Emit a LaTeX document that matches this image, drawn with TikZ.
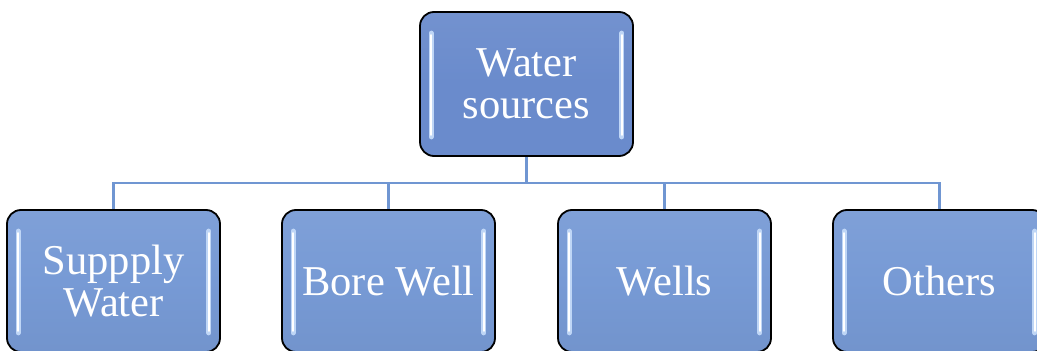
\documentclass[tikz,border=0pt]{standalone}
\usepackage{fontspec}
\setmainfont{Liberation Serif}
\usetikzlibrary{calc}
\definecolor{topfill}{HTML}{6A8BCC}
\definecolor{botfill}{HTML}{779AD5}
\definecolor{linec}{HTML}{7096D2}
\definecolor{hlc}{HTML}{BFD6F6}
\tikzset{
  box/.style={draw=black, line width=1.8pt, rounded corners=14pt,
    minimum width=213pt, minimum height=142pt, inner sep=0pt,
    text=white, align=center,
    font=\fontsize{42.5}{42}\selectfont},
  topbox/.style={box, top color=topfill!94!white, bottom color=topfill, middle color=topfill},
  botbox/.style={box, top color=botfill!94!white, bottom color=botfill!96!black, middle color=botfill},
  conn/.style={draw=linec, line width=2.4pt},
  hl/.style={line width=5pt, line cap=round, draw=hlc},
  hlw/.style={line width=1.8pt, line cap=round, draw=white},
}
\newcommand{\strips}[1]{%
  \draw[hl] ($(#1.north west)+(12pt,-22pt)$) -- ($(#1.south west)+(12pt,20pt)$);
  \draw[hlw] ($(#1.north west)+(12pt,-24pt)$) -- ($(#1.south west)+(12pt,22pt)$);
  \draw[hl] ($(#1.north east)+(-12pt,-22pt)$) -- ($(#1.south east)+(-12pt,20pt)$);
  \draw[hlw] ($(#1.north east)+(-12pt,-24pt)$) -- ($(#1.south east)+(-12pt,22pt)$);
}
\begin{document}
\begin{tikzpicture}[x=1pt,y=1pt]
\useasboundingbox (0,0) rectangle (1037,351);
\clip (0,0) rectangle (1037,351);
\node[topbox, minimum height=144pt] (top) at (526.5,267) {Water\\sources};
\node[botbox] (b1) at (113.5,70) {Suppply\\Water};
\node[botbox] (b2) at (388.5,70) {Bore Well};
\node[botbox] (b3) at (664.5,70) {Wells};
\node[botbox] (b4) at (939.5,70) {Others};
\foreach \n in {top,b1,b2,b3,b4} {\strips{\n}}
\coordinate (bus) at (526.5,168);
\draw[conn] (top.south) -- (bus);
\draw[conn] (b1.north) |- (bus);
\draw[conn] (b2.north) |- (bus);
\draw[conn] (b3.north) |- (bus);
\draw[conn] (b4.north) |- (bus);
\end{tikzpicture}
\end{document}
